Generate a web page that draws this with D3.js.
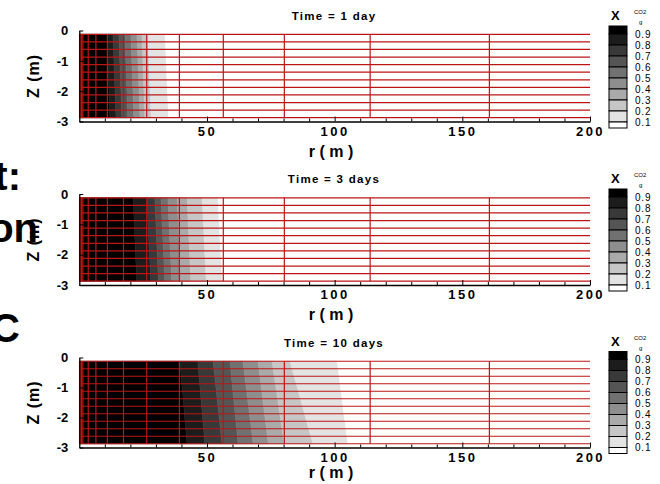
<!DOCTYPE html>
<html>
<head>
<meta charset="utf-8">
<script src="https://cdn.jsdelivr.net/npm/d3@7"></script>
<style>
body { margin: 0; background: #fff; }
text { font-family: "Liberation Sans", Arial, sans-serif; }
</style>
</head>
<body>
<div id="chart"></div>
<script>
const panelTitles = ["Time = 1 day", "Time = 3 days", "Time = 10 days"]
const levels = [0.9, 0.8, 0.7, 0.6, 0.5, 0.4, 0.3, 0.2, 0.1]

// r (m) where X_g^CO2 crosses each level, along the top and bottom grid rows
const frontTop = [
    [10.9, 13.2, 15.5, 17.9, 20.2, 22.6, 24.5, 26.9, 33.6],
    [21.1, 26.5, 29.6, 32.0, 34.7, 38.3, 42.2, 48.1, 54.3],
    [39.4, 46.4, 52.4, 59.0, 64.1, 70.0, 75.5, 82.5, 101.0]
]
const frontBottom = [
    [12.0, 14.4, 16.7, 19.0, 21.4, 23.8, 25.7, 28.1, 35.0],
    [22.5, 28.0, 31.0, 33.5, 36.2, 39.8, 43.7, 49.7, 56.0],
    [42.2, 49.2, 55.9, 62.2, 68.1, 74.0, 80.2, 91.5, 105.2]
]

// grid nodes
const radialNodes = [0.1, 0.35, 0.6, 0.85, 1.4, 3.5, 6.5, 11, 17.3, 26.4, 39.2, 56.4, 80.3, 113.9, 160.6]
const depthNodes = [-0.125, -0.375, -0.625, -0.875, -1.125, -1.375, -1.625, -1.875, -2.125, -2.375, -2.625, -2.875]
const rMax = 200

const xTicks = [50, 100, 150, 200]
const xMinorTicks = [10, 20, 30, 40, 60, 70, 80, 90, 110, 120, 130, 140, 160, 170, 180, 190]
const zTicks = [0, -1, -2, -3]
const slideWords = ["t:", "on", "C"]

let width = 660
let height = 484
let panelTop = [30.5, 194, 357.5]
let panelHeight = [91, 91, 90]
let legendTop = [26, 189, 351.5]
let rLabelGap = [35, 35, 30]
let wordY = [190, 242, 342]
let wordX = [21, 38, 20]

let svg = d3.select("#chart")
    .append("svg")
    .attr("width", width)
    .attr("height", height)

// leftover text of the slide behind the chart
slideWords.forEach((w, i) => {
    svg.append("text")
        .attr("x", wordX[i])
        .attr("y", wordY[i])
        .attr("text-anchor", "end")
        .style("font-size", "40px")
        .style("font-weight", "bold")
        .text(w)
})

let xScale = d3.scaleLinear().domain([0, rMax]).range([79.3, 590])
let shade = d3.scaleLinear().domain([0, 9]).range([0, 255])
function grey(k) {
    let g = Math.round(shade(k))
    return "rgb(" + g + "," + g + "," + g + ")"
}

panelTitles.forEach((title, p) => {
    let top = panelTop[p]
    let yScale = d3.scaleLinear().domain([0, -3]).range([top, top + panelHeight[p]])
    let g = svg.append("g")

    let zT = depthNodes[0]
    let zB = depthNodes[depthNodes.length - 1]
    let rL = radialNodes[0]

    // contour bands: band 0 is > 0.9, band 9 is < 0.1
    let tops = [rL].concat(frontTop[p]).concat([rMax])
    let bots = [rL].concat(frontBottom[p]).concat([rMax])
    for (let k = 0; k < 10; k++) {
        let pts = [
            [xScale(tops[k]), yScale(zT)],
            [xScale(tops[k + 1]), yScale(zT)],
            [xScale(bots[k + 1]), yScale(zB)],
            [xScale(bots[k]), yScale(zB)]
        ]
        g.append("path")
            .attr("d", d3.line()(pts) + "Z")
            .attr("fill", grey(k))
            .attr("stroke", grey(k))
            .attr("stroke-width", 0.6)
    }

    // red mesh
    g.selectAll(".hline")
        .data(depthNodes)
        .join("line")
        .attr("x1", xScale(rL))
        .attr("x2", xScale(rMax))
        .attr("y1", d => yScale(d))
        .attr("y2", d => yScale(d))
        .attr("stroke", "#bb1616")
        .attr("stroke-width", 1.2)

    g.selectAll(".vline")
        .data(radialNodes)
        .join("line")
        .attr("x1", d => xScale(d))
        .attr("x2", d => xScale(d))
        .attr("y1", yScale(zT))
        .attr("y2", yScale(zB))
        .attr("stroke", "#bb1616")
        .attr("stroke-width", 1.2)

    // axes
    let xAxis = g.append("g")
        .attr("transform", "translate(0," + yScale(-3) + ")")
        .call(d3.axisBottom(xScale).tickValues(xTicks).tickSizeInner(-5).tickSizeOuter(0).tickPadding(5))
    g.append("g")
        .attr("transform", "translate(0," + yScale(-3) + ")")
        .call(d3.axisBottom(xScale).tickValues(xMinorTicks).tickSizeInner(-3).tickSizeOuter(0).tickFormat(""))
        .select(".domain").remove()

    g.append("g")
        .attr("transform", "translate(" + xScale(0) + ",0)")
        .call(d3.axisLeft(yScale).tickValues(zTicks).tickSizeInner(-4).tickSizeOuter(0).tickPadding(11).tickFormat(d => String(d)))

    g.selectAll(".domain").attr("stroke", "#000").attr("stroke-width", 1.3)
    g.selectAll(".tick line").attr("stroke", "#000")
    g.selectAll(".tick text")
        .attr("fill", "#000")
        .style("font-size", "13px")
        .style("font-weight", "bold")
        .style("font-family", "'Liberation Sans', Arial, sans-serif")
    xAxis.selectAll(".tick text").style("letter-spacing", "2.5px")

    // labels
    g.append("text")
        .attr("x", 334)
        .attr("y", top - 11)
        .attr("text-anchor", "middle")
        .style("font-size", "11.5px")
        .style("font-weight", "bold")
        .style("letter-spacing", "1.3px")
        .text(title)

    g.append("text")
        .attr("x", 331)
        .attr("y", yScale(-3) + rLabelGap[p])
        .attr("text-anchor", "middle")
        .style("font-size", "16px")
        .style("font-weight", "bold")
        .text("r ( m )")

    g.append("text")
        .attr("transform", "translate(39," + (top + panelHeight[p] / 2) + ") rotate(-90)")
        .attr("text-anchor", "middle")
        .style("font-size", "16px")
        .style("font-weight", "bold")
        .style("letter-spacing", "1px")
        .text("Z (m)")

    // legend
    let lt = legendTop[p]
    let edges = [lt]
    levels.forEach((v, i) => edges.push(lt + 8 + i * 11))
    edges.push(lt + 102)
    for (let k = 0; k < 10; k++) {
        g.append("rect")
            .attr("x", 609)
            .attr("y", edges[k])
            .attr("width", 18)
            .attr("height", edges[k + 1] - edges[k])
            .attr("fill", grey(k))
            .attr("stroke", "#000")
            .attr("stroke-width", 1)
    }
    g.selectAll(".lev")
        .data(levels)
        .join("text")
        .attr("x", 635)
        .attr("y", (d, i) => edges[i + 1] + 3.5)
        .style("font-size", "10px")
        .style("letter-spacing", "0.8px")
        .text(d => d3.format(".1f")(d))

    g.append("text")
        .attr("x", 611)
        .attr("y", lt - 6)
        .style("font-size", "13px")
        .style("font-weight", "bold")
        .text("X")
    g.append("text")
        .attr("x", 634)
        .attr("y", lt - 12)
        .style("font-size", "6px")
        .text("CO2")
    g.append("text")
        .attr("x", 639)
        .attr("y", lt - 2)
        .style("font-size", "6px")
        .text("g")
})
</script>
</body>
</html>
